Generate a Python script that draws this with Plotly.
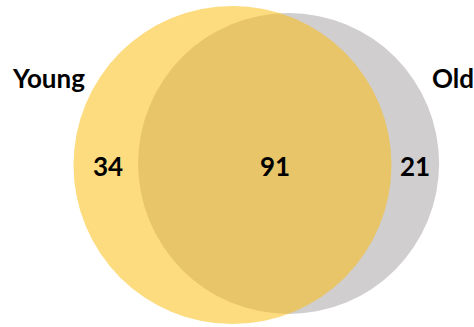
import math
import plotly.graph_objects as go

# ---- data ----
set_names = ["Young", "Old"]
only_counts = [34, 21]      # Young only, Old only
shared_count = 91           # both

# ---- derived sizes (area-proportional Venn) ----
totals = [only_counts[0] + shared_count, only_counts[1] + shared_count]
R_YOUNG = 159.0                                  # pixel radius of the larger set
px_per_item = math.pi * R_YOUNG ** 2 / totals[0]
radii = [math.sqrt(t * px_per_item / math.pi) for t in totals]


def lens_area(d, r1, r2):
    if d >= r1 + r2:
        return 0.0
    if d <= abs(r1 - r2):
        return math.pi * min(r1, r2) ** 2
    a1 = math.acos((d * d + r1 * r1 - r2 * r2) / (2 * d * r1))
    a2 = math.acos((d * d + r2 * r2 - r1 * r1) / (2 * d * r2))
    k = 0.5 * math.sqrt((-d + r1 + r2) * (d + r1 - r2) * (d - r1 + r2) * (d + r1 + r2))
    return r1 * r1 * a1 + r2 * r2 * a2 - k


target = shared_count * px_per_item
lo, hi = abs(radii[0] - radii[1]) + 1e-6, radii[0] + radii[1]
for _ in range(100):
    mid = (lo + hi) / 2
    if lens_area(mid, *radii) > target:
        lo = mid
    else:
        hi = mid
dist = (lo + hi) / 2

cx_young, cy_young = 232.5, 165.0
cx_old, cy_old = cx_young + dist, 163.5

W, H = 474, 327
fig = go.Figure()

fig.add_shape(type="circle", xref="x", yref="y",
              x0=cx_old - radii[1], x1=cx_old + radii[1],
              y0=cy_old - radii[1], y1=cy_old + radii[1],
              fillcolor="#D0CECF", line=dict(width=0), layer="below")
fig.add_shape(type="circle", xref="x", yref="y",
              x0=cx_young - radii[0], x1=cx_young + radii[0],
              y0=cy_young - radii[0], y1=cy_young + radii[0],
              fillcolor="rgba(251,189,14,0.53)", line=dict(width=0), layer="below")

font = dict(family="Lato, 'Open Sans', sans-serif", size=26, color="black")
bold = lambda s: "<b>%s</b>" % s

# region counts
young_left = cx_young - radii[0]
old_left = cx_old - radii[1]
young_right = cx_young + radii[0]
old_right = cx_old + radii[1]
fig.add_annotation(x=(young_left + old_left) / 2 + 2, y=166, text=bold(only_counts[0]),
                   showarrow=False, font=font, xref="x", yref="y")
fig.add_annotation(x=275, y=166, text=bold(shared_count),
                   showarrow=False, font=font, xref="x", yref="y")
fig.add_annotation(x=(young_right + old_right) / 2, y=166, text=bold(only_counts[1]),
                   showarrow=False, font=font, xref="x", yref="y")

# set labels
fig.add_annotation(x=48, y=78, text=bold(set_names[0]), showarrow=False, font=font,
                   xref="x", yref="y")
fig.add_annotation(x=453, y=78, text=bold(set_names[1]), showarrow=False, font=font,
                   xref="x", yref="y")

fig.update_xaxes(range=[0, W], visible=False, fixedrange=True)
fig.update_yaxes(range=[H, 0], visible=False, fixedrange=True)
fig.update_layout(width=W, height=H, margin=dict(l=0, r=0, t=0, b=0),
                  paper_bgcolor="white", plot_bgcolor="white", showlegend=False)

fig.write_html("out.html", config={"displayModeBar": False},
               post_script="document.body.style.margin='0';document.body.style.overflow='hidden';")
